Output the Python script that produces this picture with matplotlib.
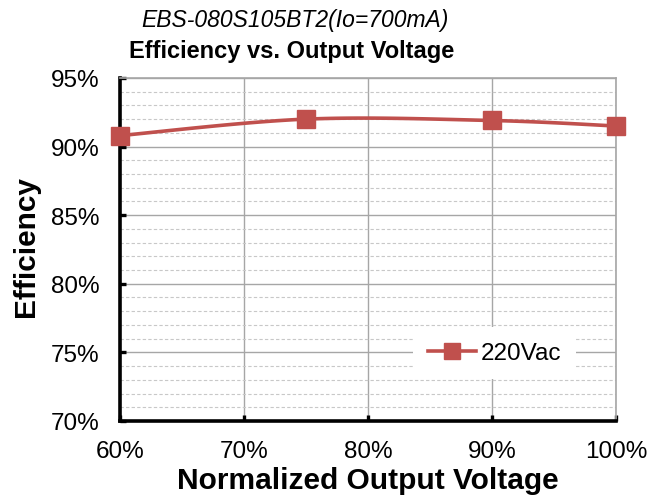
import numpy as np
import matplotlib
matplotlib.use("Agg")
import matplotlib.pyplot as plt
from matplotlib.ticker import MultipleLocator, FuncFormatter

# data
voltage_pct = [60, 75, 90, 100]            # normalized output voltage, %
efficiency_pct = [90.8, 92.0, 91.9, 91.5]  # efficiency, %
series_name = "220Vac"

title_top = "EBS-080S105BT2(Io=700mA)"
title_main = "Efficiency vs. Output Voltage"
x_label = "Normalized Output Voltage"
y_label = "Efficiency"

plt.rcParams["font.family"] = ["Liberation Sans", "DejaVu Sans"]

RED = "#C0504D"


def smooth(xs, ys, n=40):
    """Catmull-Rom smoothing similar to a spreadsheet 'smoothed line'."""
    xs = np.asarray(xs, float)
    ys = np.asarray(ys, float)
    px = np.r_[xs[0], xs, xs[-1]]
    py = np.r_[ys[0], ys, ys[-1]]
    out_x, out_y = [], []
    t = np.linspace(0, 1, n)
    for i in range(1, len(px) - 2):
        for p, out in ((px, out_x), (py, out_y)):
            p0, p1, p2, p3 = p[i - 1], p[i], p[i + 1], p[i + 2]
            out.extend(0.5 * ((2 * p1) + (-p0 + p2) * t
                              + (2 * p0 - 5 * p1 + 4 * p2 - p3) * t ** 2
                              + (-p0 + 3 * p1 - 3 * p2 + p3) * t ** 3))
    return np.array(out_x), np.array(out_y)


fig = plt.figure(figsize=(6.52, 5.02), dpi=100)
ax = fig.add_axes([0.184, 0.1594, 0.7607, 0.6833])

sx, sy = smooth(voltage_pct, efficiency_pct)
ax.plot(sx, sy, color=RED, linewidth=2.6, solid_capstyle="round", zorder=3)
ax.plot(voltage_pct, efficiency_pct, linestyle="none", marker="s",
        markersize=13, color=RED, zorder=4, clip_on=False)
# legend proxy
ax.plot([], [], color=RED, linewidth=2.6, marker="s", markersize=11,
        label=series_name)

ax.set_xlim(60, 100)
ax.set_ylim(70, 95)
ax.xaxis.set_major_locator(MultipleLocator(10))
ax.yaxis.set_major_locator(MultipleLocator(5))
ax.yaxis.set_minor_locator(MultipleLocator(1))
pct = FuncFormatter(lambda v, _: f"{v:.0f}%")
ax.xaxis.set_major_formatter(pct)
ax.yaxis.set_major_formatter(pct)

ax.grid(True, which="major", color="#a6a6a6", linewidth=1.0)
ax.grid(True, which="minor", axis="y", color="#c8c8c8", linewidth=0.8,
        linestyle=(0, (3, 2)))
ax.set_axisbelow(True)

for side in ("left", "bottom"):
    ax.spines[side].set_color("black")
    ax.spines[side].set_linewidth(2.6)
for side in ("top", "right"):
    ax.spines[side].set_color("#a6a6a6")
    ax.spines[side].set_linewidth(1.2)

ax.tick_params(axis="both", which="major", direction="in", length=4,
               width=2.4, labelsize=17.5, colors="black")
ax.tick_params(axis="x", pad=14)
ax.tick_params(axis="y", pad=15)
ax.tick_params(axis="y", which="minor", length=0)

ax.set_xlabel(x_label, fontsize=21.5, fontweight="bold")
ax.set_ylabel(y_label, fontsize=21.5, fontweight="bold")
ax.xaxis.set_label_coords(0.5, -0.13)
ax.yaxis.set_label_coords(-0.161, 0.512)

leg = ax.legend(loc="center left", bbox_to_anchor=(0.591, 0.198),
                borderaxespad=0, frameon=True, fontsize=17.5,
                handlelength=2.0, borderpad=0.6, handletextpad=0.2)
leg.get_frame().set_facecolor("white")
leg.get_frame().set_edgecolor("none")
leg.get_frame().set_alpha(1.0)

fig.text(0.452, 0.960, title_top, fontsize=16.5, style="italic",
         ha="center", va="center")
fig.text(0.447, 0.898, title_main, fontsize=17, fontweight="bold",
         ha="center", va="center")

fig.savefig("out.png", dpi=100)
